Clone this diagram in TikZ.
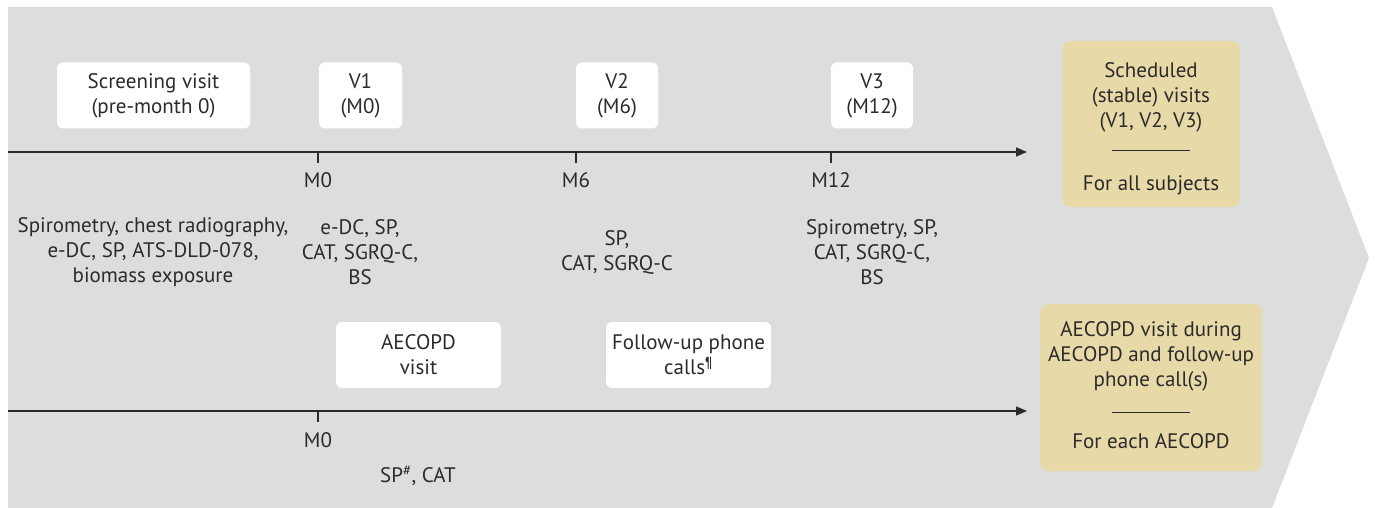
\documentclass[tikz,border=0pt]{standalone}
\usepackage{fontspec}
\setmainfont{PT Sans}
\usetikzlibrary{arrows.meta}
\definecolor{bggray}{HTML}{DCDDDF}
\definecolor{tan}{HTML}{E8D9A8}
\definecolor{ink}{HTML}{2B2B2B}
\begin{document}
\begin{tikzpicture}[x=1pt,y=-1pt,
  every node/.style={text=ink,font=\fontsize{21}{25}\selectfont},
  wbox/.style={fill=white,rounded corners=6pt,inner sep=0pt,align=center},
  tbox/.style={fill=tan,rounded corners=8pt,inner sep=0pt,align=center},
  body/.style={align=center,inner sep=0pt},
  tl/.style={draw=ink,line width=1.3pt,-{Triangle[length=11pt,width=9pt]}},
  tick/.style={draw=ink,line width=1.2pt}]
\useasboundingbox (0,0) rectangle (1375,508);
\fill[bggray] (8,7) -- (1272,7) -- (1369,258) -- (1272,508) -- (8,508) -- cycle;
% timelines
\coordinate (t1s) at (8,152);
\coordinate (t1e) at (1027,152);
\coordinate (t2s) at (8,411);
\coordinate (t2e) at (1027,411);
\draw[tl] (t1s) -- (t1e);
\draw[tl] (t2s) -- (t2e);
% ticks
\foreach \n/\x in {a/318,b/576,c/831}{
  \coordinate (k\n) at (\x,152);
  \draw[tick] (k\n) -- ++(0,11);
}
\coordinate (kd) at (318,411);
\draw[tick] (kd) -- ++(0,11);
\node[body] (m0) at (318,180) {M0};
\node[body] (m6) at (576,180) {M6};
\node[body] (m12) at (831,180) {M12};
\node[body] (m0b) at (318,440) {M0};
% white boxes
\node[wbox,minimum width=193pt,minimum height=66pt] (scr) at (153.5,95.5) {Screening visit\\(pre-month 0)};
\node[wbox,minimum width=83pt,minimum height=66pt] (v1) at (360.5,95.5) {V1\\(M0)};
\node[wbox,minimum width=82pt,minimum height=66pt] (v2) at (617,95.5) {V2\\(M6)};
\node[wbox,minimum width=82pt,minimum height=66pt] (v3) at (872,95.5) {V3\\(M12)};
\node[wbox,minimum width=165pt,minimum height=66pt] (aev) at (418.5,355) {AECOPD\\visit};
\node[wbox,minimum width=165pt,minimum height=66pt] (fup) at (688.5,355) {Follow-up phone\\calls\textsuperscript{¶}};
% body texts
\node[body] (scrt) at (153,252) {Spirometry, chest radiography,\\e-DC, SP, ATS-DLD-078,\\biomass exposure};
\node[body] (v1t) at (360,252) {e-DC, SP,\\CAT, SGRQ-C,\\BS};
\node[body] (v2t) at (617,252.5) {SP,\\CAT, SGRQ-C};
\node[body] (v3t) at (872,252) {Spirometry, SP,\\CAT, SGRQ-C,\\BS};
\node[body] (aet) at (418,476) {SP\textsuperscript{\#}, CAT};
% tan boxes
\node[tbox,minimum width=178pt,minimum height=166pt] (sch) at (1151,124) {};
\node[body] (scht) at (1151,97.5) {Scheduled\\(stable) visits\\(V1, V2, V3)};
\draw[ink,line width=0.9pt] (1112,150) -- (1190,150);
\node[body] (schb) at (1151,185) {For all subjects};
\node[tbox,minimum width=222pt,minimum height=167pt] (aec) at (1151,387.5) {};
\node[body] (aect) at (1151,356) {AECOPD visit during\\AECOPD and follow-up\\phone call(s)};
\draw[ink,line width=0.9pt] (1112,412) -- (1190,412);
\node[body] (aecb) at (1151,441) {For each AECOPD};
\end{tikzpicture}
\end{document}
